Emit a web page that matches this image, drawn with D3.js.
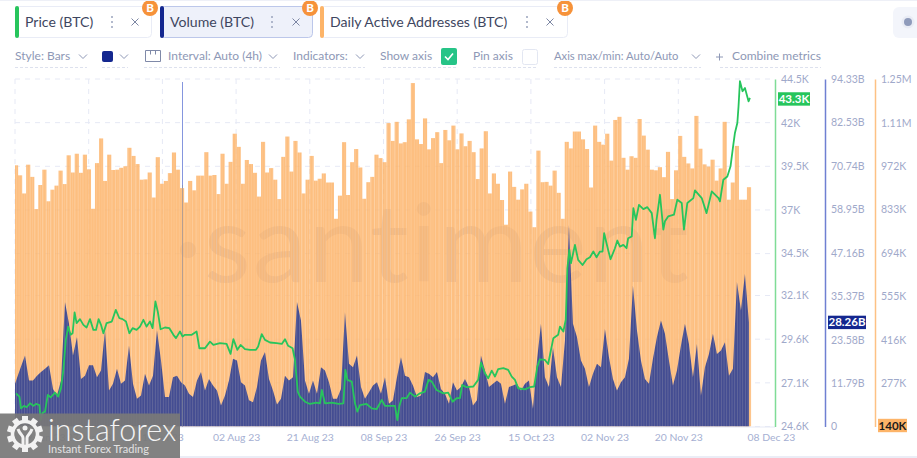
<!DOCTYPE html>
<html><head><meta charset="utf-8">
<script src="https://cdn.jsdelivr.net/npm/d3@7"></script>
<style>
html,body{margin:0;padding:0;background:#fff;overflow:hidden}
svg{display:block;font-family:Lato,"Open Sans",sans-serif}
</style></head><body><svg id="c" width="917" height="458"></svg>
<script>
// ---- data ----
const firstDay = "2023-06-09";
const lastDay = "2023-12-08";
const dateLabels = ["09 Jun 23","27 Jun 23","15 Jul 23","02 Aug 23","21 Aug 23","08 Sep 23","26 Sep 23","15 Oct 23","02 Nov 23","20 Nov 23","08 Dec 23"];

// Daily active addresses, thousands, one per day
const addresses = [974,942,884,976,937,834,911,960,859,896,909,957,914,1006,951,1011,950,1008,961,835,981,1060,924,1008,959,960,966,971,1030,1004,978,928,929,951,871,1000,915,924,949,1015,960,901,855,924,894,941,941,1016,941,943,882,1011,915,985,1075,1033,915,991,978,950,874,1049,951,965,928,866,1001,1066,954,1052,1015,
884,928,1004,925,931,948,919,919,803,877,1048,879,984,1026,967,867,920,937,1008,997,984,1109,1052,1113,1044,1048,1121,1237,1057,1042,1124,1025,1061,1080,981,1087,1054,1101,1025,1076,1035,1052,1016,930,1028,1083,884,948,915,863,784,954,905,864,897,915,826,776,1021,920,921,909,957,886,803,1049,1028,1082,1082,1057,1026,903,1101,1049,
1040,1075,989,1119,1129,998,960,1003,998,1122,1069,1024,960,958,968,936,1017,866,958,1068,1001,980,964,1132,1027,977,970,992,925,964,1113,864,919,1036,864,864,904];

// Volume, billions
const volume = [11.6,16.3,19.3,12.5,12.5,13.8,14.8,15.7,16.6,10.2,8.4,12.5,33.8,27.9,19.3,24.3,12.9,13.8,16.6,16.6,13.4,15.2,26.1,9.8,11.6,15.7,11.6,12.5,22.0,11.6,7.5,8.4,14.3,11.1,13.8,26.1,17.9,8.0,8.0,13.4,13.8,12.0,11.1,8.9,8.0,12.5,14.8,9.8,12.9,11.1,9.8,5.7,8.4,12.5,18.4,17.9,12.0,11.1,7.1,6.6,10.7,17.9,20.2,12.9,9.8,6.0,7.5,13.8,12.5,13.4,33.8,
28.8,12.5,8.9,12.5,8.9,16.1,15.2,12.0,7.5,7.5,10.2,31.0,17.0,16.1,19.3,10.7,7.5,9.3,11.1,12.0,8.9,13.4,6.2,7.1,13.4,18.8,13.8,13.4,11.1,8.0,8.4,14.8,14.3,13.4,14.8,10.2,8.9,6.2,12.0,9.8,10.7,12.9,10.7,5.7,7.1,19.3,15.2,10.7,11.6,12.5,11.6,6.2,10.7,11.1,11.6,9.8,11.6,12.5,4.8,17.9,27.9,13.4,10.7,21.5,13.4,10.7,23.3,54.7,27.9,24.3,17.9,15.7,10.7,14.3,17.0,
16.1,26.5,18.8,12.9,9.8,12.0,13.4,18.4,38.3,26.1,17.9,12.9,11.6,18.4,24.3,28.8,25.2,17.9,11.1,15.2,22.0,27.9,22.4,13.4,22.4,8.4,16.1,19.7,25.2,19.7,20.6,22.9,13.8,15.7,39.2,31.5,41.4,28.26];

// Price: turning points of the line (elapsed sample number, USD thousands)
const priceSteps = [0.25,1.1,1.5,2.25,2.9,3.75,4.6,5.25,6.1,6.4,6.9,7.5,8.2,8.9,10,10.8,11.5,12.1,12.7,13.3,13.9,14.4,14.9,15.4,16.25,17.1,17.9,18.75,19.6,20.25,20.9,21.5,22.1,22.9,24.2,25.2,26.1,26.9,27.75,28.6,29.4,30.4,31.25,32.1,32.9,33.75,34.4,35.1,35.7,36.4,37.5,38.6,39.6,40.25,41.25,41.9,42.5,44.2,45.4,46.1,47.5,48.75,49.6,51.25,52.9,53.9,54.6,55.6,56.4,57.5,58.75,60.25,60.8,61.7,62.5,63.75,65.4,66.7,67.5,68.3,69.4,70,70.7,71.25,
72.5,73.75,75.4,76.25,76.7,77.5,79.2,80.9,82.1,82.6,83.1,84.2,85,85.6,86.25,87.9,89.2,90.4,91.7,92.5,95,95.6,96.1,96.7,97.9,98.75,100,101.25,102.5,103.4,104.2,105.4,107.1,108.3,109.4,110.4,111.25,111.8,112.9,114.6,115.8,116.5,117.5,118.3,119.2,120,120.8,122.1,123.3,124.2,125,125.8,127.5,128.75,129.8,130.6,131.25,132.5,133.3,134.6,135.8,136.25,137.1,137.7,137.9,
138.1,138.6,139,140,140.8,141.9,142.9,143.75,144.6,145.4,146.25,146.9,147.3,148.3,148.9,150,150.6,151.25,152.1,152.9,153.3,154.2,154.6,155.25,156,157.1,158.1,159.2,160,160.4,161.25,
162.1,162.5,163.3,164.75,165.6,166.7,167.25,168.1,169.6,170,171.7,172.9,174.2,175.9,176.25,177.1,178.1,178.9,179.6,180,180.6,180.9,181.25,181.9,182.5,183.4,183.75];
const priceValues = [26.50,26.31,25.64,25.78,25.70,25.93,25.78,25.89,25.83,24.97,25.39,25.45,26.41,26.27,26.54,26.31,26.79,27.84,29.56,30.32,29.85,29.94,31.13,30.52,30.75,30.42,30.27,30.75,30.13,30.13,30.75,30.42,29.94,30.52,30.61,31.28,30.80,30.75,30.61,29.94,30.23,30.13,30.32,30.71,30.32,30.61,30.23,31.76,31.18,30.17,30.27,30.23,29.85,29.66,30.04,29.75,29.85,29.85,30.04,29.08,29.08,29.46,29.27,29.37,29.33,28.76,29.60,28.99,29.27,29.03,28.99,28.99,29.18,29.89,29.56,29.41,29.37,29.33,29.60,29.22,29.08,28.41,26.60,26.31,
26.02,25.89,25.97,25.93,26.69,25.93,25.97,25.89,25.93,27.84,27.27,27.17,25.93,25.45,25.83,25.89,25.64,25.59,26.12,25.78,25.78,24.97,25.78,26.22,26.22,26.54,26.31,26.50,26.60,27.27,27.17,26.69,26.50,26.54,26.02,26.22,26.22,26.98,26.85,26.89,27.27,28.26,27.65,27.36,27.80,27.46,27.88,27.94,27.84,27.46,27.27,26.79,26.73,26.85,26.89,28.03,28.45,28.41,28.18,29.66,29.85,30.32,30.04,30.71,32.04,
33.66,34.71,33.95,35.0,34.14,33.85,34.18,34.29,34.62,34.29,34.62,34.62,35.67,34.71,34.18,34.81,35.25,34.90,35.0,34.81,35.38,35.48,37.1,36.43,37.29,37.05,37.16,36.82,35.38,36.43,37.87,
35.87,36.35,36.63,36.73,37.59,37.40,35.87,37.40,37.68,38.12,37.68,36.82,38.06,37.68,37.49,38.73,38.92,39.50,40.74,41.41,41.98,42.94,44.37,43.80,43.99,43.22,43.42];

const priceTicks = [44.5,42,39.5,37,34.5,32.1,29.6,27.1,24.6];
const volumeTicks = [94.33,82.53,70.74,58.95,47.16,35.37,23.58,11.79,0];
const addressTicks = [1250,1110,972,833,694,555,416,277];
const addressBottom = 138.7;
const priceLatest = 43.3, volumeLatest = 28.26;
const badgeTexts = ["43.3K","28.26B","140K"];
const sampleDays = 0.9877;   // length of one volume / price sample, days
const tickEveryDays = 18.2;

const tabs = ["Price (BTC)","Volume (BTC)","Daily Active Addresses (BTC)"];
const toolbar = ["Style: Bars","Interval: Auto (4h)","Indicators:","Show axis","Pin axis","Axis max/min: Auto/Auto","Combine metrics"];

// ---- layout ----
const svg = d3.select("#c");
const plotTop = 79, plotBottom = 426.5, plotLeft = 15;
const parse = d3.utcParse("%Y-%m-%d");
const start = parse(firstDay);
const x = d3.scaleUtc().domain([start, parse(lastDay)]).range([plotLeft, 752]);
const atStep = s => new Date(+start + s * sampleDays * 864e5);
const tickDates = dateLabels.map((d,i)=>new Date(+start + i*tickEveryDays*864e5));
const yPrice = d3.scaleLinear().domain([24.6,44.5]).range([plotBottom,plotTop]);
const yVol = d3.scaleLinear().domain([0,94.33]).range([plotBottom,plotTop]);
const yAddr = d3.scaleLinear().domain([addressBottom,1250]).range([plotBottom,plotTop]);

const defs = svg.append("defs");
const stripe = (id, base, line, w) => {
  const p = defs.append("pattern").attr("id",id).attr("patternUnits","userSpaceOnUse")
    .attr("width",2.67).attr("height",10);
  p.append("rect").attr("width",2.67).attr("height",10).attr("fill",base);
  p.append("rect").attr("width",w).attr("height",10).attr("fill",line);
};
stripe("pOrange","#fdb46a","#fdbd7c",0.9);
stripe("pBlue","#444d92","#6b6f9f",0.7);
defs.append("clipPath").attr("id","plot").append("rect")
  .attr("x",plotLeft).attr("y",0).attr("width",740).attr("height",plotBottom);

// grid
const grid = svg.append("g").attr("stroke","#e6e9f5").attr("stroke-dasharray","5 5").attr("stroke-width",1);
priceTicks.forEach(t => grid.append("line").attr("x1",plotLeft).attr("x2",775).attr("y1",yPrice(t)).attr("y2",yPrice(t)));
tickDates.slice(0,10).forEach(t => grid.append("line").attr("x1",x(t)).attr("x2",x(t)).attr("y1",plotTop).attr("y2",plotBottom));
svg.append("line").attr("x1",plotLeft).attr("x2",775).attr("y1",plotBottom+.5).attr("y2",plotBottom+.5).attr("stroke","#e6e9f5");

// watermark
svg.append("text").attr("x",174).attr("y",282).attr("font-size",108).attr("font-weight",400)
  .attr("letter-spacing",2).attr("fill","#c9d1e6").text("·santiment");

// crosshair below the bars
svg.append("line").attr("x1",182.5).attr("x2",182.5).attr("y1",82).attr("y2",plotBottom).attr("stroke","#8596de").attr("stroke-width",1);

// bars
const plot = svg.append("g").attr("clip-path","url(#plot)");
const bw = x(d3.utcDay.offset(start,1)) - x(start);
plot.append("g").attr("opacity",0.85).selectAll("rect").data(addresses).join("rect")
  .attr("x",(d,i)=>x(d3.utcDay.offset(start,i))-bw/2+1).attr("width",bw+.1)
  .attr("y",d=>yAddr(d)).attr("height",d=>plotBottom-yAddr(d)).attr("fill","url(#pOrange)");
// volume: fine 4h columns, drawn as one striped silhouette through the readings
plot.append("path").datum(volume)
  .attr("fill","url(#pBlue)")
  .attr("d",d3.area().x((d,i)=>x(atStep(i===0?0:i+.5))).y0(plotBottom).y1(d=>yVol(d)));

// crosshair over bars
svg.append("line").attr("x1",182.5).attr("x2",182.5).attr("y1",185).attr("y2",plotBottom).attr("stroke","#8a8f9e").attr("stroke-width",1).attr("opacity",.55);

// price
svg.append("path").datum(priceSteps.map((s,i)=>[atStep(s),priceValues[i]]))
  .attr("fill","none").attr("stroke","#27c55c").attr("stroke-width",1.8).attr("stroke-linejoin","round")
  .attr("d",d3.line().x(d=>x(d[0])).y(d=>yPrice(d[1])));

// axes
const axisColors = ["#7fdc96","#6f80d2","#fdc184"];
const fmtK = d => d + "K";
const fmtB = d => d === 0 ? "0" : d3.format(".2f")(d) + "B";
const fmtA = d => d >= 1000 ? (d/1000) + "M" : d + "K";
const makeAxis = (scale, ticks, fmt, at, col) => {
  const g = svg.append("g").attr("transform",`translate(${at},0)`)
    .call(d3.axisRight(scale).tickValues(ticks).tickFormat(fmt).tickSize(0).tickPadding(6));
  g.select(".domain").attr("stroke",col).attr("stroke-width",1.5);
  g.selectAll("text").attr("fill","#9fa9ca").attr("font-size",10.5).attr("font-family","Lato");
};
makeAxis(yPrice, priceTicks, fmtK, 775, axisColors[0]);
makeAxis(yVol, volumeTicks, fmtB, 825, axisColors[1]);
makeAxis(yAddr, addressTicks, fmtA, 875, axisColors[2]);

const gx = svg.append("g").attr("transform",`translate(0,${plotBottom+1})`)
  .call(d3.axisBottom(x).tickValues(tickDates).tickFormat((d,i)=>dateLabels[i]).tickSize(0).tickPadding(6));
gx.select(".domain").remove();
gx.selectAll("text").attr("fill","#a5afd2").attr("font-size",10.4).attr("font-family","Lato");
gx.selectAll(".tick").filter((d,i)=>i===0).select("text").attr("text-anchor","start").attr("dx",5);
gx.selectAll(".tick").filter((d,i)=>i===dateLabels.length-1).select("text").attr("text-anchor","start").attr("dx",-5);

// value badges
const badge = (bx,w,cy,fill,col,t) => {
  svg.append("rect").attr("x",bx).attr("y",cy-6.7).attr("width",w).attr("height",13.4).attr("fill",fill);
  svg.append("text").attr("x",bx+w/2).attr("y",cy+4.1).attr("text-anchor","middle").attr("font-size",11.5)
    .attr("font-weight",700).attr("fill",col).text(t);
};
badge(778,32,yPrice(priceLatest)-1,"#27c55c","#fff",badgeTexts[0]);
badge(828,38,yVol(volumeLatest),"#14278f","#fff",badgeTexts[1]);
badge(878,29,plotBottom-1,"#fdb468","#1b1b1b",badgeTexts[2]);

// tabs
const tabSpec = [[15,136,"#27c55c",112,135,150],[160,152,"#14278f",272,296,310],[320,247,"#fdb468",527,550,565]];
tabSpec.forEach((s,i)=>{
  const g = svg.append("g");
  g.append("rect").attr("x",s[0]+.5).attr("y",6.5).attr("width",s[1]).attr("height",31).attr("rx",4)
    .attr("fill",i===1?"#eef1fa":"#fff").attr("stroke",i===1?"#bcc7ea":"#e9ecf6");
  g.append("rect").attr("x",s[0]).attr("y",6).attr("width",4).attr("height",32).attr("rx",2).attr("fill",s[2]);
  g.append("text").attr("x",s[0]+10).attr("y",27).attr("font-size",14.1).attr("fill","#3e4660").text(tabs[i]);
  [-5,0,5].forEach(o=>g.append("circle").attr("cx",s[3]).attr("cy",22+o).attr("r",1).attr("fill","#9aa3bd"));
  g.append("path").attr("d",`M${s[4]-3.5} ${18.5}l7 7m0 -7l-7 7`).attr("stroke","#7c86a3").attr("stroke-width",1).attr("fill","none");
  g.append("circle").attr("cx",s[5]).attr("cy",8).attr("r",8).attr("fill","#f6923a");
  g.append("text").attr("x",s[5]).attr("y",12).attr("text-anchor","middle").attr("font-size",11.5).attr("font-weight",900).attr("fill","#fff").text("B");
});
svg.append("rect").attr("x",0).attr("y",0).attr("width",917).attr("height",1).attr("fill","#eef0f7");
svg.append("rect").attr("x",893).attr("y",7).attr("width",30).attr("height",31).attr("rx",6).attr("fill","#f3f5fb");
svg.append("circle").attr("cx",908).attr("cy",22).attr("r",6.5).attr("fill","#e9ecf5");
svg.append("circle").attr("cx",908).attr("cy",22).attr("r",4).attr("fill","#8f9bbb");

// toolbar
const tb = svg.append("g").attr("font-size",12).attr("fill","#8e98b6");
const chev = cx => tb.append("path").attr("d",`M${cx-4} 54.5l4 4 4-4`).attr("fill","none").attr("stroke","#8e98b6").attr("stroke-width",1);
[[15,toolbar[0],12],[168,toolbar[1],12],[293,toolbar[2],12],[380,toolbar[3],12],[473,toolbar[4],12],[554,toolbar[5],11.2],[732,toolbar[6],12]]
  .forEach(d=>tb.append("text").attr("x",d[0]).attr("y",60).attr("font-size",d[2]).text(d[1]));
[83,124,273,360,696].forEach(chev);
tb.append("rect").attr("x",102).attr("y",51).attr("width",11).attr("height",11).attr("rx",2).attr("fill","#14278f");
tb.append("path").attr("d","M145.5 50.5h15v11h-15zM150.5 50.5v4M155.5 50.5v4").attr("fill","none").attr("stroke","#7f89a8").attr("stroke-width",1);
tb.append("rect").attr("x",441).attr("y",48).attr("width",16).attr("height",17).attr("rx",2).attr("fill","#26c487");
tb.append("path").attr("d","M445 56.5l3 3 5-6").attr("fill","none").attr("stroke","#fff").attr("stroke-width",1.6);
tb.append("rect").attr("x",522.5).attr("y",49.5).attr("width",15).attr("height",15).attr("rx",2).attr("fill","#fff").attr("stroke","#e3e7f2");
tb.append("path").attr("d","M716 57h7M719.5 53.5v7").attr("stroke","#8e98b6").attr("fill","none");
[[15,87],[102,128],[144,280],[293,365],[383,457],[473,537],[554,701],[720,821]].forEach(d=>
  tb.append("line").attr("x1",d[0]).attr("x2",d[1]).attr("y1",67.5).attr("y2",67.5).attr("stroke","#dde1ee").attr("stroke-dasharray","3 2"));

// footer line
svg.append("rect").attr("x",0).attr("y",456).attr("width",917).attr("height",2).attr("fill","#ebedf6");

// instaforex logo block
const lg = svg.append("g");
lg.append("rect").attr("x",0).attr("y",413.5).attr("width",180).attr("height",44.5).attr("fill","#787878").attr("opacity",.93);
const gear = lg.append("g").attr("transform","translate(25,434)");
d3.range(10).forEach(i=>gear.append("rect").attr("x",-3).attr("y",-18).attr("width",6).attr("height",7)
  .attr("fill","#f2f2f2").attr("transform",`rotate(${i*36})`));
gear.append("circle").attr("r",12.5).attr("fill","none").attr("stroke","#f2f2f2").attr("stroke-width",3.5);
gear.append("path").attr("d","M-7 -5C-5 1 -2 1 -2 4V13M7 -5C5 1 2 1 2 4V13").attr("fill","none").attr("stroke","#f2f2f2").attr("stroke-width",3);
gear.append("circle").attr("cx",0).attr("cy",-6).attr("r",2.5).attr("fill","#f2f2f2");
lg.append("text").attr("x",48).attr("y",441).attr("font-size",30.5).attr("font-weight",300).attr("fill","#f4f4f4").text("instaforex");
lg.append("text").attr("x",48).attr("y",453).attr("font-size",11).attr("fill","#e2e2e2").text("Instant Forex Trading");
</script></body></html>
